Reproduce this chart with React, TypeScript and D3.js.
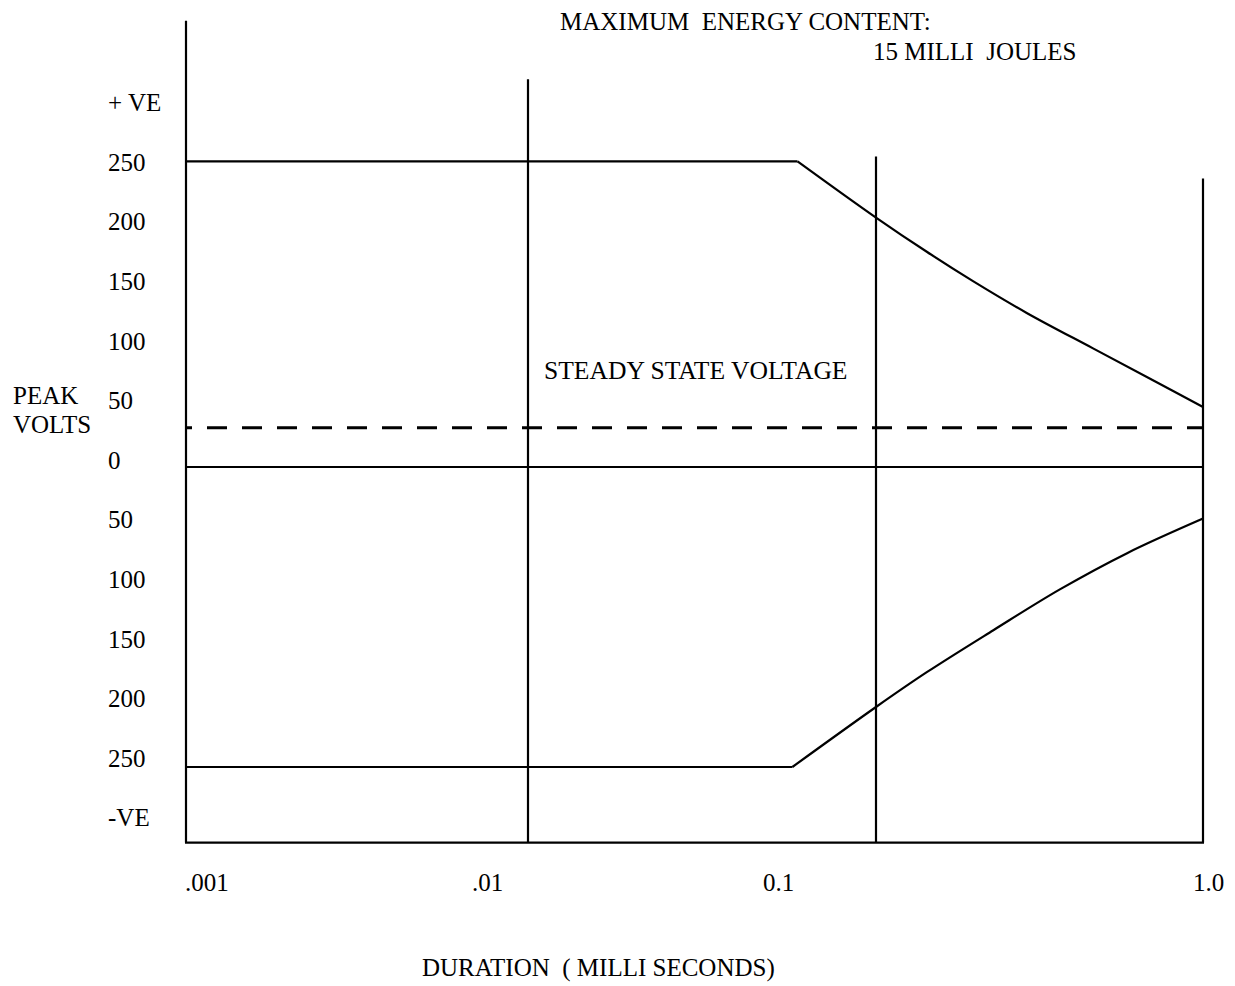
import React from "react";
import * as d3 from "d3";

// ---- data ----
const durationTicks = [0.001, 0.01, 0.1, 1];
const durationTickLabels = [".001", ".01", "0.1", "1.0"];

const voltLabelValues = [300, 250, 200, 150, 100, 50, 0, -50, -100, -150, -200, -250, -300];
const voltLabelTexts = ["+ VE", "250", "200", "150", "100", "50", "0", "50", "100", "150", "200", "250", "-VE"];

// vertical reference lines (duration) and the voltage they reach up to
const gridDurations = [0.01, 0.1, 1];
const gridTopVolts = [317, 254, 236];

const axisTopVolt = 365;
const axisBottomVolt = -313;

const steadyStateVolt = 32;

// positive limit curve: [duration ms, peak volts]
const upperDuration = [0.001, 0.0595, 0.1, 0.143, 0.198, 0.289, 0.461, 0.703, 1];
const upperVolts = [250, 250, 204, 176, 152, 126, 97, 71, 49];

// negative limit curve
const lowerDuration = [0.001, 0.0575, 0.1, 0.143, 0.2285, 0.365, 0.584, 1];
const lowerVolts = [-250, -250, -200, -171, -136, -102, -72, -43];

const FONT = "'Liberation Serif', 'Times New Roman', serif";
const FS = 25;

export default function App() {
  const W = 1235;
  const H = 986;

  const x = d3.scaleLog().domain(durationTicks).range([186, 528, 876, 1203]);
  const y = d3.scaleLinear().domain([-250, 0, 250]).range([767, 467, 161.3]);

  // label layout scales (text placement of the original document)
  const xLabel = d3.scaleLog().domain(durationTicks).range([185, 472, 763, 1193]);
  const yLabel = d3.scaleLinear().domain([250, -250]).range([170.7, 766.7]);

  const upper = upperDuration.map((d, i) => [d, upperVolts[i]] as [number, number]);
  const lower = lowerDuration.map((d, i) => [d, lowerVolts[i]] as [number, number]);

  const flat = d3
    .line<[number, number]>()
    .x((d) => x(d[0]))
    .y((d) => y(d[1]));
  const curved = d3
    .line<[number, number]>()
    .x((d) => x(d[0]))
    .y((d) => y(d[1]))
    .curve(d3.curveCatmullRom.alpha(0.5));

  const x0 = x(durationTicks[0]);
  const x1 = x(durationTicks[durationTicks.length - 1]);

  const textStyle: React.CSSProperties = { whiteSpace: "pre" };

  return (
    <svg
      width={W}
      height={H}
      style={{ position: "absolute", left: 0, top: 0, background: "#fff" }}
      fontFamily={FONT}
      fontSize={FS}
    >
      <rect width={W} height={H} fill="#fff" />

      {/* axes */}
      <line x1={x0} x2={x0} y1={y(axisTopVolt)} y2={y(axisBottomVolt)} stroke="#000" strokeWidth={2.2} />
      <line x1={x0 - 1} x2={x1 + 1} y1={y(axisBottomVolt)} y2={y(axisBottomVolt)} stroke="#000" strokeWidth={2.2} />

      {/* vertical reference lines */}
      {gridDurations.map((d, i) => (
        <line
          key={"g" + i}
          x1={x(d)}
          x2={x(d)}
          y1={y(gridTopVolts[i])}
          y2={y(axisBottomVolt)}
          stroke="#000"
          strokeWidth={2.2}
        />
      ))}

      {/* zero line */}
      <line x1={x0} x2={x1} y1={y(0)} y2={y(0)} stroke="#000" strokeWidth={2.2} />

      {/* steady state dashed line */}
      <line
        x1={x0}
        x2={x1}
        y1={y(steadyStateVolt)}
        y2={y(steadyStateVolt)}
        stroke="#000"
        strokeWidth={3}
        strokeDasharray="20 15"
        strokeDashoffset={14}
      />

      {/* limit curves */}
      <path d={flat(upper.slice(0, 2)) || ""} fill="none" stroke="#000" strokeWidth={2.2} />
      <path d={curved(upper.slice(1)) || ""} fill="none" stroke="#000" strokeWidth={2.2} />
      <path d={flat(lower.slice(0, 2)) || ""} fill="none" stroke="#000" strokeWidth={2.2} />
      <path d={curved(lower.slice(1)) || ""} fill="none" stroke="#000" strokeWidth={2.2} />

      {/* y labels */}
      {voltLabelValues.map((v, i) => (
        <text key={"yl" + i} x={108} y={yLabel(v)} fill="#000" style={textStyle}>
          {voltLabelTexts[i]}
        </text>
      ))}

      {/* x labels */}
      {durationTicks.map((d, i) => (
        <text key={"xl" + i} x={xLabel(d)} y={890.5} fill="#000">
          {durationTickLabels[i]}
        </text>
      ))}

      {/* titles */}
      <text x={560} y={30} fill="#000" style={textStyle}>
        {"MAXIMUM  ENERGY CONTENT:"}
      </text>
      <text x={873} y={60} fill="#000" style={textStyle}>
        {"15 MILLI  JOULES"}
      </text>
      <text x={544} y={378.5} fill="#000" style={textStyle} fontSize={25.6}>
        {"STEADY STATE VOLTAGE"}
      </text>
      <text x={13} y={403.5} fill="#000">PEAK</text>
      <text x={13} y={433.3} fill="#000">VOLTS</text>
      <text x={422} y={976} fill="#000" style={textStyle}>
        {"DURATION  ( MILLI SECONDS)"}
      </text>
    </svg>
  );
}
